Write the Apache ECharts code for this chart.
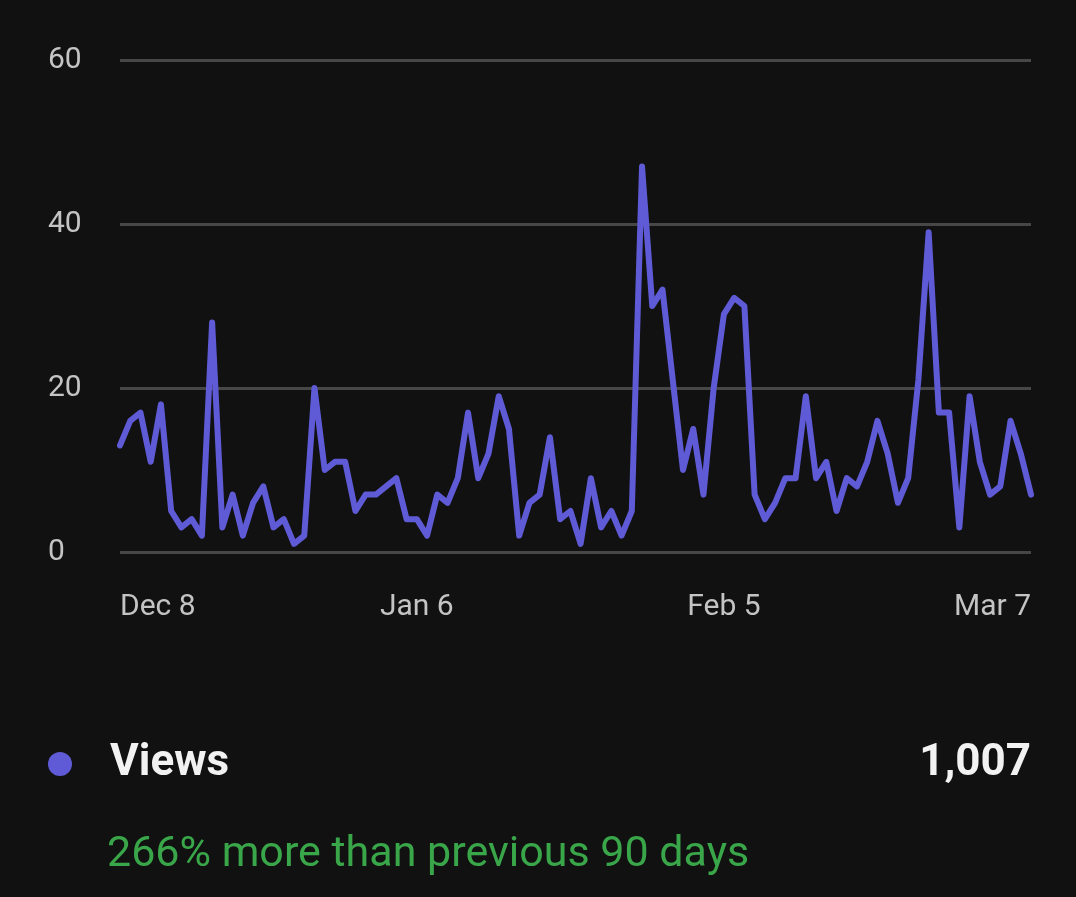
<!DOCTYPE html>
<html>
<head>
<meta charset="utf-8">
<script src="https://cdn.jsdelivr.net/npm/echarts@6/dist/echarts.min.js"></script>
<style>
html,body{margin:0;padding:0;background:#111111;}
#chart{width:1076px;height:897px;}
</style>
</head>
<body>
<div id="chart"></div>
<script>
// Daily views, Dec 8 .. Mar 7 (90 days)
const views = [
  13,16,17,11,18,5,3,4,2,28,
  3,7,2,6,8,3,4,1,2,20,
  10,11,11,5,7,7,8,9,4,4,
  2,7,6,9,17,9,12,19,15,2,
  6,7,14,4,5,1,9,3,5,2,
  5,47,30,32,21,10,15,7,20,29,
  31,30,7,4,6,9,9,19,9,11,
  5,9,8,11,16,12,6,9,21,39,
  17,17,3,19,11,7,8,16,12,7
];
const xTickLabels = ['Dec 8', 'Jan 6', 'Feb 5', 'Mar 7'];
const yTicks = [0, 20, 40, 60];
const seriesName = 'Views';
const totalText = '1,007';
const compareText = '266% more than previous 90 days';

const monthNames = ['Jan','Feb','Mar','Apr','May','Jun','Jul','Aug','Sep','Oct','Nov','Dec'];
const dates = [];
for (let i = 0; i < views.length; i++) {
  const d = new Date(Date.UTC(2022, 11, 8 + i));
  dates.push(monthNames[d.getUTCMonth()] + ' ' + d.getUTCDate());
}

const FONT = 'Roboto, "Noto Sans", sans-serif';
const chart = echarts.init(document.getElementById('chart'));
chart.setOption({
  backgroundColor: '#111111',
  animation: false,
  grid: { left: 120, right: 45, top: 60, bottom: 345 },
  title: [
    {
      text: totalText, right: 40, top: 737,
      textStyle: { color: '#f2f2f2', fontSize: 44, fontWeight: 'bold', fontFamily: FONT }
    },
    {
      text: compareText, left: 102, top: 829,
      textStyle: { color: '#3aa64a', fontSize: 43, fontWeight: 'normal', fontFamily: FONT }
    }
  ],
  legend: {
    data: [seriesName], left: 43, top: 737, icon: 'circle', padding: 5,
    itemWidth: 24, itemHeight: 24,
    textStyle: { color: '#f2f2f2', fontSize: 44, fontWeight: 'bold', fontFamily: FONT, padding: [0, 0, 0, 33] }
  },
  xAxis: {
    type: 'category', data: dates, boundaryGap: false,
    axisLine: { show: false }, axisTick: { show: false }, splitLine: { show: false },
    axisLabel: {
      color: '#c4c4c4', fontSize: 30, fontFamily: FONT, margin: 40,
      interval: (idx, val) => xTickLabels.includes(val),
      alignMinLabel: 'left', alignMaxLabel: 'right'
    }
  },
  yAxis: {
    type: 'value', min: yTicks[0], max: yTicks[yTicks.length - 1], interval: 20,
    axisLine: { show: false }, axisTick: { show: false },
    splitLine: { lineStyle: { color: '#474747', width: 3 } },
    axisLabel: { color: '#c4c4c4', fontSize: 30, fontFamily: FONT, align: 'left', margin: 72 }
  },
  series: [{
    name: seriesName, type: 'line', data: views, symbol: 'none', smooth: false,
    itemStyle: { color: '#5f5bd6' },
    lineStyle: { color: '#5f5bd6', width: 6, join: 'round', cap: 'round' }
  }]
});
</script>
</body>
</html>
